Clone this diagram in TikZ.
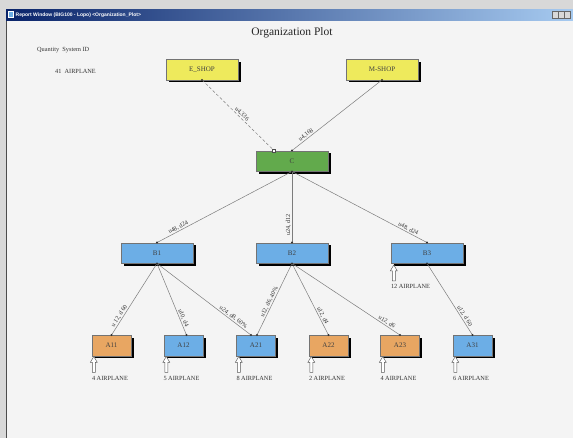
\documentclass[tikz,border=0pt]{standalone}
\usepackage{fontspec}
\setmainfont{Liberation Serif}
\newfontfamily\winfont{Liberation Sans}
\usetikzlibrary{calc,shadows}
\definecolor{bgc}{HTML}{F4F4F4}
\definecolor{framec}{HTML}{D8D8D8}
\definecolor{tbdark}{HTML}{0A246A}
\definecolor{tblight}{HTML}{A6CAF0}
\definecolor{yel}{HTML}{EEEA5C}
\definecolor{grn}{HTML}{62AA4C}
\definecolor{blu}{HTML}{6CAEE6}
\definecolor{org}{HTML}{E8A662}
\definecolor{linec}{HTML}{7C7C7C}
\tikzset{
  box/.style={draw=black!55, line width=0.4pt, minimum height=20.5pt, inner sep=0pt,
    font=\fontsize{7}{8}\selectfont, text=black!75,
    general shadow={fill=black, shadow xshift=2.5pt, shadow yshift=-2.5pt}},
  bigbox/.style={box, minimum width=72pt},
  smallbox/.style={box, minimum width=39pt},
  conn/.style={draw=linec, line width=0.5pt},
  lbl/.style={font=\fontsize{6.2}{7}\selectfont, sloped, above, inner sep=0.6pt, text=black!80},
  qty/.style={font=\fontsize{6.3}{7}\selectfont, text=black!80, inner sep=0pt, anchor=west},
  enddot/.style={fill=black!80, draw=none},
  uparrow/.pic={\draw[draw=black!65, fill=white, line width=0.45pt]
     (0,0) -- (-3.5,6) -- (-1.5,6) -- (-1.5,16) -- (1.5,16) -- (1.5,6) -- (3.5,6) -- cycle;}
}
\begin{document}
\begin{tikzpicture}[x=1pt,y=-1pt]
\useasboundingbox (0,0) rectangle (573,438);
% window frame
\fill[framec] (0,0) rectangle (573,438);
\fill[bgc] (7,21) rectangle (573,438);
\draw[black!70, line width=0.8pt] (6.6,21) -- (6.6,438);
\shade[left color=tbdark, right color=tblight] (6,9.5) rectangle (573,20.5);
\fill[white] (8,11.5) rectangle (14,18.5);
\fill[blu] (9,12.5) rectangle (13,17.5);
\node[anchor=west, text=white, font=\winfont\bfseries\fontsize{5}{6}\selectfont, inner sep=0pt] (wtitle) at (15.5,15) {Report Window (BIG100 - Lopo) <Organization\_Plot>};
\foreach \bx in {552.5,558.5,564.5} {\draw[fill=framec, draw=black!60, line width=0.3pt] (\bx,11.5) rectangle (\bx+5.5,18.5);}
% title
\node[font=\fontsize{11.5}{13}\selectfont, text=black!85] (ttl) at (292,33) {Organization Plot};
\node[qty] (qhead) at (37,50) {Quantity\ \ System ID};
\node[qty] (qrow) at (55,71) {41\ \ AIRPLANE};
% nodes
\node[bigbox, fill=yel] (eshop) at (202,69.5) {E\_SHOP};
\node[bigbox, fill=yel] (mshop) at (382,69.5) {M-SHOP};
\node[bigbox, fill=grn] (c) at (292,161) {C};
\node[bigbox, fill=blu] (b1) at (157,253) {B1};
\node[bigbox, fill=blu] (b2) at (292,253) {B2};
\node[bigbox, fill=blu] (b3) at (427,253) {B3};
\node[smallbox, fill=org] (a11) at (111.5,345.5) {A11};
\node[smallbox, fill=blu] (a12) at (183.5,345.5) {A12};
\node[smallbox, fill=blu] (a21) at (256,345.5) {A21};
\node[smallbox, fill=org] (a22) at (328.5,345.5) {A22};
\node[smallbox, fill=org] (a23) at (400,345.5) {A23};
\node[smallbox, fill=blu] (a31) at (472.5,345.5) {A31};
% attach points
\coordinate (cE) at ($(c.north)+(-18,0)$);
\coordinate (a21L) at ($(a21.north)+(-5,0)$);
\coordinate (a21R) at ($(a21.north)+(1,0)$);
\coordinate (a12T) at ($(a12.north)+(3,0)$);
% connectors
\draw[conn, dashed, dash pattern=on 3pt off 2pt] (eshop.south) -- node[lbl, pos=0.52] {u4,336} (cE);
\draw[conn] (mshop.south) -- node[lbl, pos=0.82] {u4,168} (c.north);
\draw[conn] (c.south) -- node[lbl, pos=0.83] {u48, d24} (b1.north);
\draw[conn] (b2.north) -- node[lbl, pos=0.25] {u24, d12} (c.south);
\draw[conn] (c.south) -- node[lbl, pos=0.85] {u48, d24} (b3.north);
\draw[conn] (b1.south) -- node[lbl, pos=0.76] {u 12, d 60} (a11.north);
\draw[conn] (b1.south) -- node[lbl, pos=0.78] {u10, d4} (a12T);
\draw[conn] (b1.south) -- node[lbl, pos=0.79] {u24, d8, 60\%} (a21L);
\draw[conn] (b2.south) -- node[lbl, pos=0.56] {u12, d6, 40\%} (a21R);
\draw[conn] (b2.south) -- node[lbl, pos=0.75] {u12, d4} (a22.north);
\draw[conn] (b2.south) -- node[lbl, pos=0.86] {u12, d6} (a23.north);
\draw[conn] (b3.south) -- node[lbl, pos=0.76] {u12, d 60} (a31.north);
% end markers
\foreach \p in {eshop.south, mshop.south, c.north, c.south, b1.north, b2.north, b3.north, b1.south, b2.south, b3.south, a11.north, a12T, a21L, a21R, a22.north, a23.north, a31.north}
  {\fill[enddot] (\p) circle (1.1pt);}
\draw[black!70, fill=white, line width=0.35pt] ($(cE)+(-1.5,-1.5)$) rectangle ($(cE)+(1.5,1.5)$);
% quantity arrows
\pic at ($(a11.south west)+(2,0.5)$) {uparrow};
\pic at ($(a12.south west)+(2.5,0.5)$) {uparrow};
\pic at ($(a21.south west)+(2.5,0.5)$) {uparrow};
\pic at ($(a22.south west)+(2.5,0.5)$) {uparrow};
\pic at ($(a23.south west)+(2.5,0.5)$) {uparrow};
\pic at ($(a31.south west)+(2.5,0.5)$) {uparrow};
\pic at ($(b3.south west)+(3,1.5)$) {uparrow};
\node[qty] (q11) at ($(a11.south west)+(0,22.5)$) {4 AIRPLANE};
\node[qty] (q12) at ($(a12.south west)+(-0.5,22.5)$) {5 AIRPLANE};
\node[qty] (q21) at ($(a21.south west)+(0,22.5)$) {8 AIRPLANE};
\node[qty] (q22) at ($(a22.south west)+(0,22.5)$) {2 AIRPLANE};
\node[qty] (q23) at ($(a23.south west)+(0,22.5)$) {4 AIRPLANE};
\node[qty] (q31) at ($(a31.south west)+(0,22.5)$) {6 AIRPLANE};
\node[qty] (q3) at ($(b3.south west)+(0,23)$) {12 AIRPLANE};
\end{tikzpicture}
\end{document}
